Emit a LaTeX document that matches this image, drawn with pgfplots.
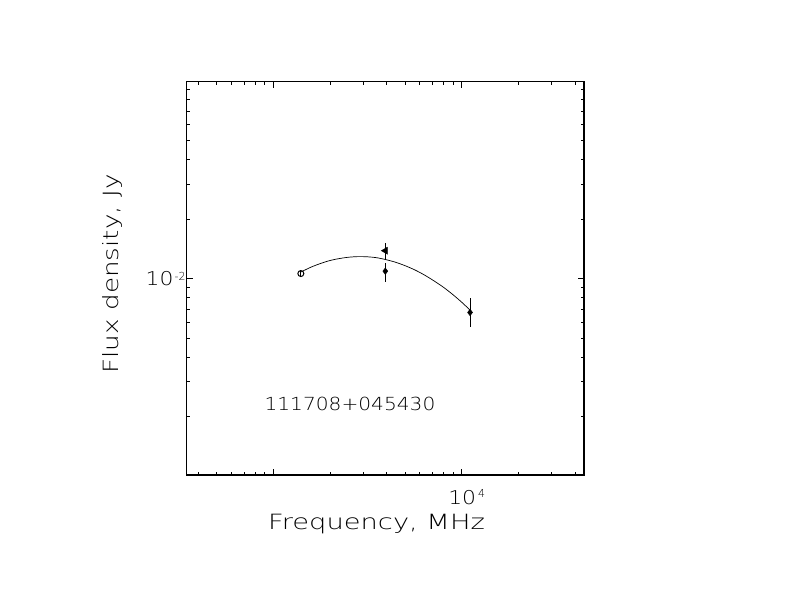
\documentclass[border=0pt]{standalone}
\usepackage{fontspec}
\setmainfont{DejaVu Sans ExtraLight}
\usepackage{pgfplots}
\pgfplotsset{compat=1.18}
\begin{document}
\begin{tikzpicture}[x=1pt,y=1pt]
\path[use as bounding box] (0,0) rectangle (792,612);
\begin{axis}[
  at={(186.7pt,137pt)}, anchor=south west, scale only axis,
  width=397.3pt, height=393.3pt,
  xmode=log, ymode=log,
  xmin=347, xmax=44560, ymin=1.016e-3, ymax=0.0989,
  axis line style={line width=1.1pt},
  every tick/.style={line width=1pt, black},
  major tick length=6pt, minor tick length=3.5pt,
  tick align=inside,
  xtick={1000,10000},
  xticklabels={,{\scalebox{1.15}[1]{10}\hspace{2pt}\raisebox{7pt}{\fontsize{11}{11}\selectfont 4}}},
  minor xtick={400,500,600,700,800,900,2000,3000,4000,5000,6000,7000,8000,9000,20000,30000,40000},
  ytick={0.01},
  yticklabels={{\scalebox{1.15}[1]{10}\hspace{1pt}\raisebox{5pt}{\fontsize{11}{11}\selectfont -2}}},
  minor ytick={0.002,0.003,0.004,0.005,0.006,0.007,0.008,0.009,0.02,0.03,0.04,0.05,0.06,0.07,0.08,0.09},
  xticklabel style={font=\fontsize{19}{19}\selectfont, anchor=north, inner sep=0pt, yshift=-14pt, xshift=5pt},
  yticklabel style={font=\fontsize{19}{19}\selectfont, anchor=east, inner sep=0pt, xshift=-1pt},
  clip=false,
]
% fitted curve
\addplot[black, line width=0.7pt, mark=none, smooth] coordinates {
(1400,0.01079) (1585,0.01142) (1778,0.01191) (1995,0.01233) (2239,0.01262)
(2512,0.01282) (2818,0.01291) (3162,0.01288) (3548,0.01274) (3981,0.01245)
(4467,0.01208) (5012,0.01161) (5623,0.01107) (6310,0.01045) (7079,0.00977)
(7943,0.00908) (8913,0.00834) (10000,0.00759) (11066,0.00693)
};
% open point
\addplot[black, line width=1pt, mark=o, mark size=3pt, mark options={fill=white, solid},
  error bars/.cd, y dir=both, y explicit, error mark=none,
  error bar style={line width=0.9pt}]
  coordinates {(1400,0.0106) +- (0,0.00045)};
% filled points
\addplot[black, only marks, mark=diamond*, mark size=3.3pt,
  error bars/.cd, y dir=both, y explicit, error mark=none,
  error bar style={line width=1pt}]
  coordinates {
  (3930,0.0109) += (0,0.00107) -= (0,0.00125)
  (11070,0.00674) += (0,0.00119) -= (0,0.00104)
  };
% triangle
\addplot[black, only marks, mark=triangle*, mark size=4pt, mark options={rotate=90},
  error bars/.cd, y dir=both, y explicit, error mark=none,
  error bar style={line width=1pt}]
  coordinates {(3930,0.01383) += (0,0.00136) -= (0,0.00137)};
\end{axis}
\node[anchor=base, font=\fontsize{21}{21}\selectfont] at (376.5,82.5) {\scalebox{1.3}[1]{Frequency, MHz}};
\node[anchor=base, rotate=90, font=\fontsize{21}{21}\selectfont] at (118,338) {\scalebox{1.25}[1]{Flux density, Jy}};
\node[anchor=base, font=\fontsize{18}{18}\selectfont] at (350,201) {\scalebox{1.12}[1]{111708+045430}};
\end{tikzpicture}
\end{document}
